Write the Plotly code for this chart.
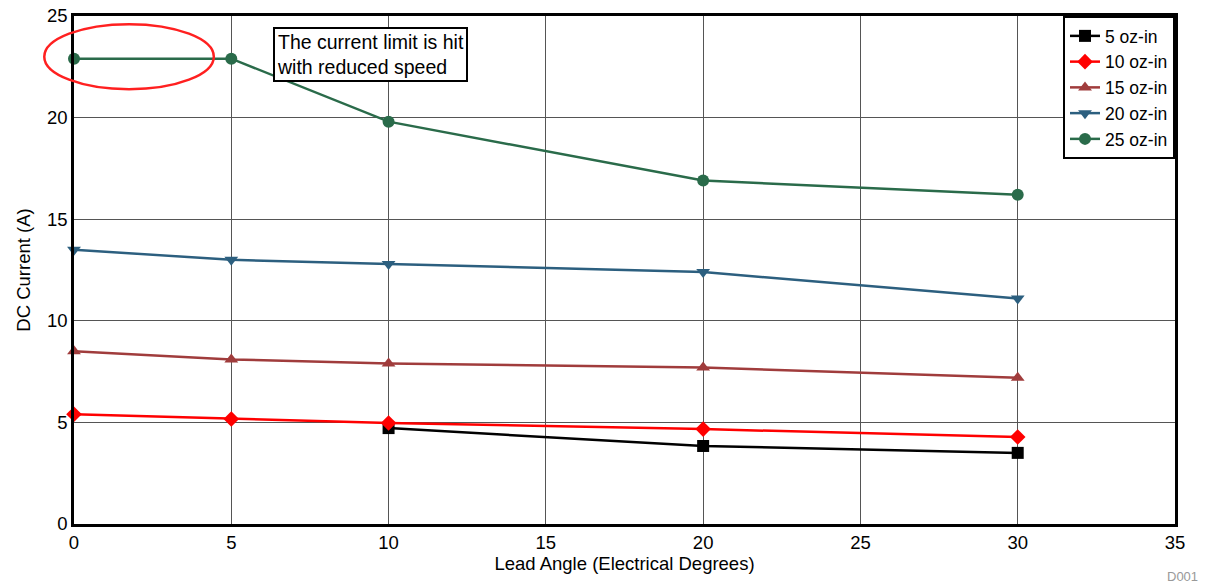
import plotly.graph_objects as go

lead_angle = [0, 5, 10, 20, 30]
x_5oz = [10, 20, 30]
y_5oz = [4.72, 3.84, 3.50]
y_10oz = [5.40, 5.17, 4.97, 4.67, 4.28]
y_15oz = [8.50, 8.10, 7.90, 7.70, 7.20]
y_20oz = [13.50, 13.00, 12.80, 12.40, 11.10]
y_25oz = [22.90, 22.90, 19.80, 16.90, 16.20]

series = [
    ("5 oz-in", x_5oz, y_5oz, "#000000", "square"),
    ("10 oz-in", lead_angle, y_10oz, "#FF0000", "diamond"),
    ("15 oz-in", lead_angle, y_15oz, "#A03C3C", "triangle-up"),
    ("20 oz-in", lead_angle, y_20oz, "#2C5F7F", "triangle-down"),
    ("25 oz-in", lead_angle, y_25oz, "#2A6B4A", "circle"),
]

fig = go.Figure()
for name, xs, ys, col, sym in series:
    fig.add_trace(go.Scatter(
        x=xs, y=ys, name=name, mode="lines+markers",
        line=dict(color=col, width=2.5),
        marker=dict(symbol=sym, size=12, color=col),
        cliponaxis=False,
    ))

font = "Liberation Sans, Arial, sans-serif"
fs = 18.5
fig.update_layout(
    width=1207, height=586,
    margin=dict(l=74, r=32, t=16, b=62, autoexpand=False),
    plot_bgcolor="white", paper_bgcolor="white",
    font=dict(family=font, size=fs, color="black"),
    showlegend=True,
    legend=dict(x=1, y=1, xanchor="right", yanchor="top",
                bordercolor="black", borderwidth=2, bgcolor="white",
                font=dict(size=17.5), tracegroupgap=0),
    xaxis=dict(range=[0, 35], dtick=5, showgrid=True, gridcolor="#555555", gridwidth=1,
               showline=True, linecolor="black", linewidth=2.5, mirror=True,
               zeroline=False, ticks="", tickfont=dict(size=fs), automargin=False,
               title=dict(text="Lead Angle (Electrical Degrees)", font=dict(size=fs), standoff=2)),
    yaxis=dict(range=[0, 25], dtick=5, showgrid=True, gridcolor="#555555", gridwidth=1,
               showline=True, linecolor="black", linewidth=2.5, mirror=True,
               zeroline=False, ticks="", tickfont=dict(size=fs), automargin=False,
               title=dict(text="DC Current (A)", font=dict(size=fs), standoff=12)),
)

fig.add_annotation(
    xref="paper", yref="paper", x=0.1807, y=0.978, xanchor="left", yanchor="top",
    text="The current limit is hit<br>with reduced speed", showarrow=False,
    align="left", bordercolor="black", borderwidth=2, bgcolor="white", borderpad=2,
    font=dict(size=19.5, family=font),
)
fig.add_annotation(
    xref="paper", yref="paper", x=1.0227, y=-0.104, xanchor="right", yanchor="middle",
    text="D001", showarrow=False, font=dict(size=13, color="#999999", family=font),
)
fig.add_shape(
    type="circle", xref="paper", yref="paper",
    x0=-0.027, x1=0.127, y0=0.856, y1=0.984,
    line=dict(color="#FF2020", width=2.5),
)

fig.write_html("out.html")
